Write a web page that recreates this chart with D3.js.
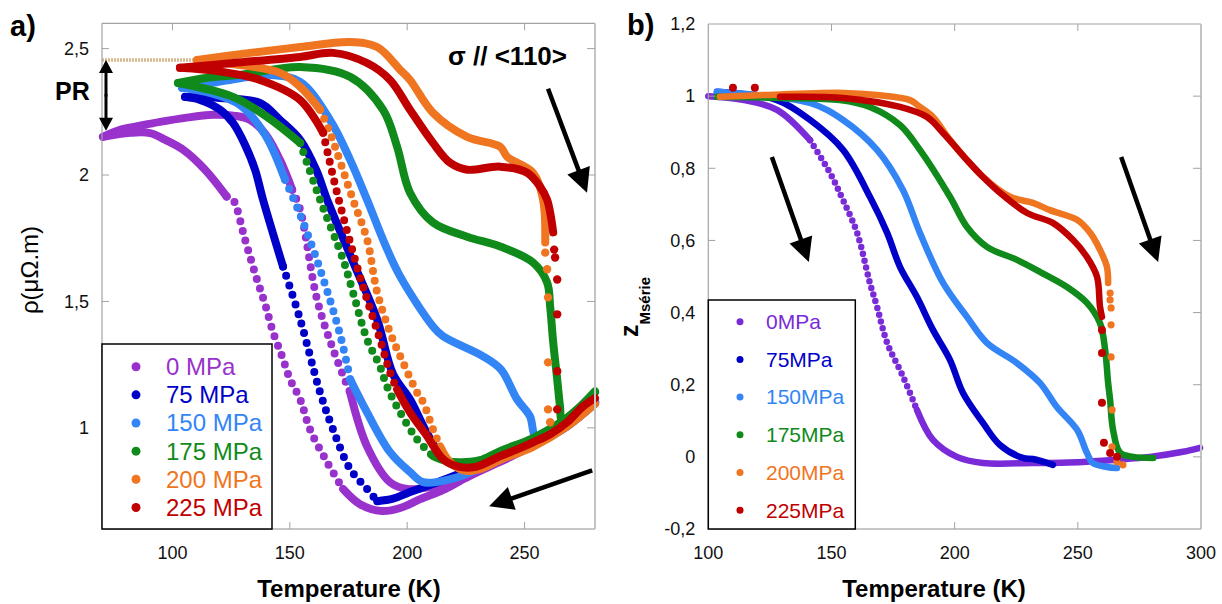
<!DOCTYPE html>
<html><head><meta charset="utf-8">
<script src="https://cdn.jsdelivr.net/npm/d3@7"></script>
<style>body{margin:0;background:#fff} svg{display:block;font-family:"Liberation Sans",Arial,sans-serif}</style>
</head><body><svg id="c" width="1222" height="604"></svg>
<script>
// ---------- DATA ----------
const labelsA = ["0 MPa","75 MPa","150 MPa","175 MPa","200 MPa","225 MPa"];
const labelsB = ["0MPa","75MPa","150MPa","175MPa","200MPa","225MPa"];
const xTicksA = [100,150,200,250];
const yTicksA = [1,1.5,2,2.5];
const xTicksB = [100,150,200,250,300];
const yTicksB = [-0.2,0,0.2,0.4,0.6,0.8,1,1.2];

// panel a : resistivity (µΩ.m) vs T (K)
const a0_low = [[70.4,2.151],[82,2.167],[90.5,2.166],[97,2.139],[104.6,2.100],[113.9,2.021],[123.1,1.915],[125.8,1.902],[130.9,1.745],[136,1.587],[139.5,1.488],[142.9,1.377],[146.7,1.283],[150.1,1.192],[154.4,1.113],[158.6,0.994],[165.9,0.864],[172.7,0.758],[179.9,0.698],[189.3,0.671],[197,0.683],[205.5,0.718],[216.1,0.758],[225.5,0.805],[235.3,0.848],[243.8,0.884],[253.6,0.931],[268.1,1.006],[280,1.097]];
const a0_up = [[70.4,2.151],[77.7,2.179],[86.2,2.195],[94.7,2.210],[105.4,2.226],[117.3,2.238],[126.7,2.234],[133.1,2.218],[139.5,2.163],[145.8,2.060],[151,1.942],[154.4,1.863],[161.6,1.508],[168.4,1.311],[175.7,1.140],[182.9,0.927],[192.7,0.785],[200,0.758],[209.8,0.766],[225.5,0.805]];
const a75_low = [[105.4,2.309],[111.8,2.297],[120.3,2.258],[125.8,2.206],[130.9,2.120],[135.2,2.021],[138.6,1.902],[147.1,1.638],[154.4,1.429],[162.9,1.140],[168.4,0.994],[175.7,0.837],[182.9,0.758],[187.2,0.710],[194,0.720],[201.2,0.746],[214,0.789],[226.8,0.837],[239.6,0.896],[253.6,0.938],[268.1,1.010],[280,1.100]];
const a75_up = [[105.4,2.309],[120.3,2.305],[137.3,2.285],[145.8,2.218],[154.4,2.139],[161.2,2.021],[165.9,1.902],[176.5,1.666],[187.2,1.429],[194,1.212],[201.2,1.113],[207.6,0.994],[214,0.896],[218.3,0.864],[225.5,0.845],[232.3,0.853],[239.6,0.885],[253.6,0.940],[268.1,1.015],[280,1.105]];
const a150_low = [[104.1,2.345],[116,2.325],[128.8,2.277],[139.5,2.159],[148,1.981],[154.4,1.843],[162.9,1.627],[171.4,1.369],[175.7,1.192],[182.9,1.061],[192.7,0.904],[201.2,0.825],[206.8,0.785],[218.3,0.797],[228.1,0.829],[239.6,0.890],[253.6,0.940],[268.1,1.015],[280,1.105]];
const a150_up = [[104.1,2.345],[124.5,2.376],[141.6,2.396],[154.4,2.368],[167.1,2.218],[175.7,2.060],[182.9,1.902],[190.6,1.725],[197,1.599],[211,1.401],[215.3,1.362],[232.3,1.283],[240,1.230],[246.8,1.113],[252.3,1.046],[254.5,0.967],[258,0.955],[268,1.005],[280,1.095]];
const a175_low = [[102.4,2.364],[125.8,2.309],[140.3,2.230],[154.4,2.127],[162.9,1.902],[172.7,1.666],[176.9,1.536],[182.9,1.350],[188.4,1.243],[191.4,1.164],[197,1.061],[204.2,0.955],[211,0.888],[217,0.868],[225,0.865],[232,0.875],[240,0.910],[253.6,0.960],[268.1,1.040],[280,1.140]];
const a175_up = [[102.4,2.364],[115,2.385],[128.8,2.396],[154.4,2.427],[175.7,2.388],[189.7,2.258],[195.7,2.112],[201.2,1.930],[211,1.812],[225.5,1.756],[239.6,1.717],[253.6,1.654],[259.6,1.575],[260.9,1.480],[262.2,1.338],[263.9,1.192],[265.1,1.085],[266,1.030],[272,1.070],[280,1.145]];
const a200_low = [[110.5,2.455],[128.8,2.435],[145.8,2.404],[154.4,2.349],[162.9,2.258],[167.1,2.167],[176.9,1.902],[182.9,1.745],[187.2,1.536],[192.7,1.377],[198.2,1.259],[204.2,1.140],[206.8,1.101],[211,0.994],[214,0.927],[218.3,0.864],[225,0.830],[232,0.840],[240,0.875],[253.6,0.925],[268.1,1.005],[280,1.095]];
const a200_up = [[110.5,2.455],[133.1,2.483],[154.4,2.506],[175.7,2.526],[187.2,2.506],[197,2.416],[201.2,2.376],[211,2.246],[225.5,2.151],[239.6,2.112],[242.6,2.072],[253.6,2.009],[257.9,1.902],[258.8,1.733]];
const a200_drop = [[258.8,1.693],[259.6,1.627],[260,1.516],[260,1.259],[260,1.073],[260.9,1.022]];
const a225_low = [[103.2,2.424],[120,2.410],[137.3,2.376],[154.4,2.297],[164.2,2.167],[170.1,1.930],[178.6,1.638],[182.9,1.508],[188.4,1.350],[192.7,1.219],[195.7,1.152],[201.2,1.061],[208.5,0.967],[215.3,0.876],[221.3,0.848],[228.1,0.844],[232.3,0.856],[239.6,0.888],[246.8,0.915],[253.6,0.943],[260.9,0.975],[268.1,1.022],[274.9,1.085],[280,1.118]];
const a225_up = [[103.2,2.424],[125.8,2.443],[154.4,2.467],[168.4,2.483],[182.9,2.443],[192.7,2.376],[201.2,2.258],[211,2.127],[218.3,2.048],[225.5,2.021],[239.6,2.033],[251.1,2.009],[256.6,1.954],[259.6,1.902],[262.2,1.773]];
const a225_drop = [[262.6,1.705],[263,1.674],[263.9,1.587],[263.9,1.449],[263.9,1.224],[263.9,1.073]];
const prLevel = 2.455, prLow = 2.175;

// panel b : z_Msérie vs T (K)
const b0 = [[100,1.0],[113.9,0.990],[127.9,0.962],[141.3,0.878],[149.4,0.787],[154.7,0.712],[160.4,0.621],[165.6,0.482],[168.5,0.416],[172.6,0.316],[179.1,0.222],[184.7,0.130],[191.2,0.047],[200.9,0.0],[211.5,-0.017],[231.8,-0.017],[252.1,-0.014],[265.9,-0.008],[279.3,0.0],[292.7,0.014],[299.6,0.025]];
const b75 = [[103.5,1.012],[127.9,0.989],[141.3,0.934],[154.7,0.851],[165.6,0.721],[172.6,0.621],[177.8,0.527],[184.7,0.443],[191.2,0.352],[198.1,0.269],[203.4,0.177],[211.5,0.094],[218.4,0.033],[227.7,-0.003],[231.8,-0.006],[239.9,-0.022]];
const b150 = [[103.5,1.012],[141.3,0.981],[154.7,0.934],[168.5,0.851],[179,0.740],[185.9,0.621],[195.3,0.482],[205,0.388],[213.1,0.316],[225.3,0.260],[234.6,0.205],[241.5,0.138],[249.7,0.075],[253.7,0.011],[256.1,-0.017],[261.8,-0.028],[265.9,-0.031]];
const b175 = [[103.5,0.998],[130.3,0.995],[153.4,0.989],[165.6,0.970],[177.8,0.920],[185.9,0.851],[198.1,0.721],[205,0.637],[213.1,0.582],[225.3,0.546],[234.6,0.513],[245.6,0.471],[253.7,0.427],[259,0.371],[261.1,0.296],[262.3,0.205],[263.1,0.158],[264.3,0.075],[267.2,0.011],[272.5,0.0],[280.6,-0.003]];
const b200 = [[104.7,0.998],[122.2,1.003],[154.7,1.009],[168.5,1.003],[181.9,0.989],[185.9,0.970],[191.2,0.942],[198.1,0.879],[211.5,0.776],[222.5,0.721],[231.8,0.704],[238.7,0.684],[249.7,0.657],[255,0.621],[259,0.574],[261.8,0.527],[262.3,0.482]];
const b200_drop = [[263.1,0.454],[263.1,0.435],[263.5,0.413],[263.5,0.366],[263.5,0.277],[263.9,0.130],[263.9,0.028],[265.9,-0.014],[268.3,-0.022]];
const b225 = [[129.1,0.998],[154.7,0.995],[177.8,0.970],[188.8,0.942],[195.3,0.898],[205,0.823],[211.5,0.776],[218.4,0.732],[229.4,0.676],[240,0.648],[248.1,0.601],[253.7,0.554],[257.8,0.499],[259,0.416],[259.8,0.388]];
const b225_dots = [[110,1.023],[118.9,1.023],[259.8,0.352],[259.8,0.288],[259.8,0.150],[260.6,0.039],[263.1,0.011],[265.9,0.0]];

// ---------- STYLE ----------
const colsA = ["#9932cc","#0000c8","#3385f5","#108a1a","#f07521","#c00000"];
const colsB = ["#7a2bd8","#0000c8","#3385f5","#108a1a","#f07521","#c00000"];
const svg = d3.select("#c");
const fmt = d => String(d).replace(".", ",");

function frame(g, x, y, xt, yt){
  const [x0,x1] = x.range(), [y0,y1] = y.range();
  const c = "#a3a3a3";
  g.append("line").attr("x1",x0).attr("x2",x0).attr("y1",y1).attr("y2",y0).attr("stroke",c).attr("stroke-width",1.2);
  g.append("line").attr("x1",x0).attr("x2",x1).attr("y1",y1).attr("y2",y1).attr("stroke",c).attr("stroke-width",1.2);
  g.append("line").attr("x1",x1).attr("x2",x1).attr("y1",y1).attr("y2",y0).attr("stroke","#c4c4c4").attr("stroke-width",2);
  g.append("line").attr("x1",x0).attr("x2",x1).attr("y1",y0).attr("y2",y0).attr("stroke","#b4b4b4").attr("stroke-width",1.6);
  xt.forEach(t=>{
    if (!(Math.abs(x(t)-x0)<1 || Math.abs(x(t)-x1)<1)) {
      g.append("line").attr("x1",x(t)).attr("x2",x(t)).attr("y1",y1).attr("y2",y1+7).attr("stroke",c);
      g.append("line").attr("x1",x(t)).attr("x2",x(t)).attr("y1",y0).attr("y2",y0-7).attr("stroke",c);
    }
    g.append("text").attr("x",x(t)).attr("y",y0+30).attr("text-anchor","middle").attr("font-size",18).attr("fill","#111").text(t);
  });
  yt.forEach(t=>{
    if (!(Math.abs(y(t)-y0)<1 || Math.abs(y(t)-y1)<1)) {
      g.append("line").attr("x1",x0).attr("x2",x0+7).attr("y1",y(t)).attr("y2",y(t)).attr("stroke",c);
      g.append("line").attr("x1",x1).attr("x2",x1-8).attr("y1",y(t)).attr("y2",y(t)).attr("stroke",c);
    }
    g.append("text").attr("x",x0-13).attr("y",y(t)).attr("dy","0.35em").attr("text-anchor","end").attr("font-size",18).attr("fill","#111").text(fmt(t));
  });
}

function branch(g, x, y, pts, color, w, dotRanges, gap){
  const line = d3.line().x(d=>x(d[0])).y(d=>y(d[1])).curve(d3.curveCatmullRom.alpha(0.5));
  const segs = [];
  for (let i=0;i<pts.length-1;i++){
    const m = (pts[i][0]+pts[i+1][0])/2;
    const dot = dotRanges.some(r=>m>=r[0]&&m<=r[1]);
    const last = segs[segs.length-1];
    if (last && last.dot===dot) last.pts.push(pts[i+1]);
    else segs.push({dot, pts:[pts[i],pts[i+1]]});
  }
  segs.forEach(s=>{
    g.append("path").attr("d",line(s.pts)).attr("fill","none").attr("stroke",color)
     .attr("stroke-width",w).attr("stroke-linecap","round").attr("stroke-linejoin","round")
     .attr("stroke-dasharray", s.dot ? `0 ${gap}` : null);
  });
}
function scatter(g, x, y, pts, color, r){
  g.selectAll(null).data(pts).join("circle").attr("cx",d=>x(d[0])).attr("cy",d=>y(d[1])).attr("r",r).attr("fill",color);
}
function arrow(g, p0, p1, sw, hl, hw){
  const dx=p1[0]-p0[0], dy=p1[1]-p0[1], L=Math.hypot(dx,dy), ux=dx/L, uy=dy/L;
  const bx=p1[0]-ux*hl, by=p1[1]-uy*hl;
  g.append("line").attr("x1",p0[0]).attr("y1",p0[1]).attr("x2",bx+ux*2).attr("y2",by+uy*2).attr("stroke","#000").attr("stroke-width",sw);
  g.append("path").attr("d",`M${p1[0]},${p1[1]}L${bx-uy*hw},${by+ux*hw}L${bx+uy*hw},${by-ux*hw}Z`).attr("fill","#000");
}

// ---------- PANEL A ----------
const xA = d3.scaleLinear().domain([70,280]).range([102,595]);
const yA = d3.scaleLinear().domain([0.6,2.6]).range([529,23.3]);
const gA = svg.append("g");
gA.append("line").attr("x1",xA(70)).attr("x2",xA(110.5)).attr("y1",yA(prLevel)).attr("y2",yA(prLevel))
  .attr("stroke","#d6b88e").attr("stroke-width",3.5).attr("stroke-dasharray","2 1");
const specA = [
  {d:a0_low,c:0,dots:[[124,176]]},{d:a0_up,c:0,dots:[[152,176]]},
  {d:a75_low,c:1,dots:[[150,186]]},{d:a75_up,c:1,dots:[]},
  {d:a150_low,c:2,dots:[[150,176]]},{d:a150_up,c:2,dots:[]},
  {d:a175_low,c:3,dots:[[155,212]]},{d:a175_up,c:3,dots:[]},
  {d:a200_low,c:4,dots:[[160,216]]},{d:a200_up,c:4,dots:[]},
  {d:a225_low,c:5,dots:[[165,197]]},{d:a225_up,c:5,dots:[]}
];
specA.forEach(s=>{
  branch(gA,xA,yA,s.d,colsA[s.c],8,s.dots,10);
  if (s.d===a200_up) scatter(gA,xA,yA,a200_drop,colsA[4],4.2);
  if (s.d===a225_up) scatter(gA,xA,yA,a225_drop,colsA[5],4.2);
});
frame(gA,xA,yA,xTicksA,yTicksA);
gA.append("rect").attr("x",102).attr("y",344).attr("width",170).attr("height",185).attr("fill","#fff").attr("stroke","#000").attr("stroke-width",1.5);
labelsA.forEach((l,i)=>{
  const yy = 366.7+i*28.15;
  gA.append("circle").attr("cx",136).attr("cy",yy).attr("r",4.5).attr("fill",colsA[i]);
  gA.append("text").attr("x",166).attr("y",yy).attr("dy","0.35em").attr("font-size",24).attr("fill",colsA[i]).text(l);
});
arrow(gA,[xA(71.7),yA(2.31)],[xA(71.7),yA(prLevel)],3,13,7);
arrow(gA,[xA(71.7),yA(2.32)],[xA(71.7),yA(prLow)],3,13,7);
gA.append("text").attr("x",55).attr("y",100).attr("font-size",25).attr("font-weight","bold").text("PR");
arrow(gA,[xA(260),yA(2.341)],[xA(276.6),yA(1.93)],4.5,24,12);
arrow(gA,[xA(278.8),yA(0.832)],[xA(234.9),yA(0.690)],4.5,24,12);
gA.append("text").attr("x",448).attr("y",65).attr("font-size",26).attr("font-weight","bold").text("σ // <110>");
gA.append("text").attr("x",10).attr("y",36).attr("font-size",29).attr("font-weight","bold").text("a)");
gA.append("text").attr("x",349).attr("y",597).attr("text-anchor","middle").attr("font-size",24).attr("font-weight","bold").text("Temperature (K)");
gA.append("text").attr("transform","translate(38,270) rotate(-90)").attr("text-anchor","middle").attr("font-size",24).text("ρ(μΩ.m)");

// ---------- PANEL B ----------
const xB = d3.scaleLinear().domain([100,300]).range([708.3,1201]);
const yB = d3.scaleLinear().domain([-0.2,1.2]).range([529,24]);
const gB = svg.append("g");
const specB = [
  {d:b0,c:0,dots:[[138,185]]},{d:b75,c:1,dots:[]},{d:b150,c:2,dots:[]},
  {d:b175,c:3,dots:[]},{d:b200,c:4,dots:[]},{d:b225,c:5,dots:[]}
];
specB.forEach(s=>{
  branch(gB,xB,yB,s.d,colsB[s.c],6.5,s.dots,7);
  if (s.d===b200) scatter(gB,xB,yB,b200_drop,colsB[4],3.6);
  if (s.d===b225) scatter(gB,xB,yB,b225_dots,colsB[5],4);
});
frame(gB,xB,yB,xTicksB,yTicksB);
gB.append("rect").attr("x",708.3).attr("y",300).attr("width",147).attr("height",229).attr("fill","#fff").attr("stroke","#000").attr("stroke-width",1.5);
labelsB.forEach((l,i)=>{
  const yy = 321.7+i*37.7;
  gB.append("circle").attr("cx",740).attr("cy",yy).attr("r",3.5).attr("fill",colsB[i]);
  gB.append("text").attr("x",766).attr("y",yy).attr("dy","0.35em").attr("font-size",21).attr("fill",colsB[i]).text(l);
});
arrow(gB,[xB(125.8),yB(0.831)],[xB(140.8),yB(0.540)],4.5,24,12);
arrow(gB,[xB(267.6),yB(0.831)],[xB(282.6),yB(0.540)],4.5,24,12);
gB.append("text").attr("x",627).attr("y",35).attr("font-size",29).attr("font-weight","bold").text("b)");
gB.append("text").attr("x",934).attr("y",597).attr("text-anchor","middle").attr("font-size",24).attr("font-weight","bold").text("Temperature (K)");
const zl = gB.append("text").attr("transform","translate(638,337) rotate(-90)").attr("font-weight","bold");
zl.append("tspan").attr("font-size",25).text("z");
zl.append("tspan").attr("font-size",15).attr("dy",12).text("Msérie");
</script></body></html>
